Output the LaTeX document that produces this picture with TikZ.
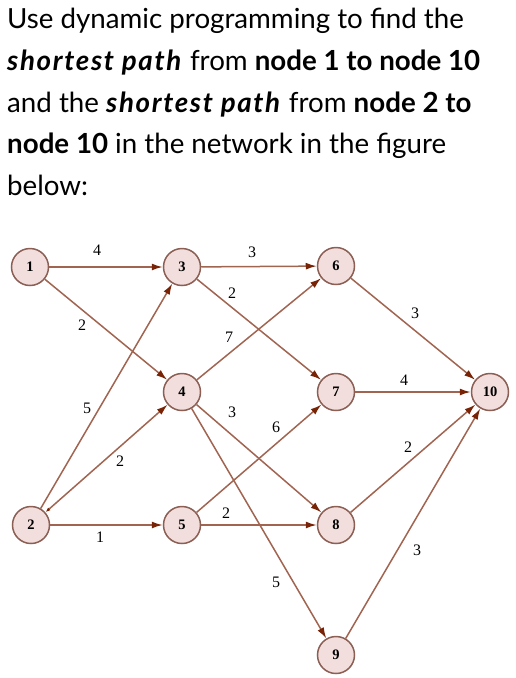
\documentclass[tikz,border=0pt]{standalone}
\usepackage{fontspec}
\setmainfont{Lato}
\newfontfamily\netfont{Liberation Serif}
\usetikzlibrary{arrows.meta}
\definecolor{edgebrown}{RGB}{160,100,80}
\definecolor{tipbrown}{RGB}{120,35,5}
\definecolor{nodefill}{RGB}{242,222,220}
\definecolor{noderim}{RGB}{140,95,85}
\tikzset{
  city/.style={circle, draw=noderim, fill=nodefill, line width=1.5pt, minimum size=37pt, inner sep=0pt, font=\netfont\bfseries\fontsize{14.5}{14.5}\selectfont},
  link/.style={draw=edgebrown, line width=1.5pt, -{Latex[length=11pt,width=7pt,color=tipbrown]}},
  cost/.style={font=\netfont\fontsize{16}{16}\selectfont, inner sep=0pt},
  txtline/.style={anchor=base west, inner sep=0pt, font=\fontsize{27.7}{30}\selectfont}
}
\newcommand{\keyterm}[1]{\textbf{\textit{\addfontfeature{LetterSpace=6}#1}}}
\begin{document}
\begin{tikzpicture}[x=1pt,y=-1pt]
\useasboundingbox (0,0) rectangle (515,678);

% question text
\node[txtline] (q1) at (7,28) {Use dynamic programming to find the};
\node[txtline] (q2) at (7,70) {\keyterm{shortest path} from \textbf{node 1 to node 10}};
\node[txtline] (q3) at (7,112) {and the \keyterm{shortest path} from \textbf{node 2 to}};
\node[txtline] (q4) at (7,153) {\textbf{node 10} in the network in the figure};
\node[txtline] (q5) at (7,195) {below:};

% network
\node[city] (n1) at (30,267) {1};
\node[city] (n2) at (31,525) {2};
\node[city] (n3) at (182,267) {3};
\node[city] (n4) at (182,392) {4};
\node[city] (n5) at (182,525) {5};
\node[city] (n6) at (336,266) {6};
\node[city] (n7) at (336,392) {7};
\node[city] (n8) at (336,525) {8};
\node[city] (n9) at (336,655) {9};
\node[city] (n10) at (490,392) {10};

\draw [link] (n1) -- (n3);
\draw [link] (n1) -- (n4);
\draw [link] (n2) -- (n3);
\draw [link, {Latex[length=5pt,width=3.5pt,color=tipbrown]}-{Latex[length=11pt,width=7pt,color=tipbrown]}] (n2) -- (n4);
\draw [link] (n2) -- (n5);
\draw [link] (n3) -- (n6);
\draw [link] (n3) -- (n7);
\draw [link] (n4) -- (n6);
\draw [link] (n4) -- (n8);
\draw [link] (n4) -- (n9);
\draw [link] (n5) -- (n7);
\draw [link] (n5) -- (n8);
\draw [link] (n6) -- (n10);
\draw [link] (n7) -- (n10);
\draw [link] (n8) -- (n10);
\draw [link] (n9) -- (n10);

% costs
\node[cost] (c13) at (97,250) {4};
\node[cost] (c14) at (82,325) {2};
\node[cost] (c23) at (87,408) {5};
\node[cost] (c24) at (120,461) {2};
\node[cost] (c25) at (100,537) {1};
\node[cost] (c36) at (252,252) {3};
\node[cost] (c37) at (232,293) {2};
\node[cost] (c46) at (229,337) {7};
\node[cost] (c48) at (232,412) {3};
\node[cost] (c57) at (276,427) {6};
\node[cost] (c49) at (276,582) {5};
\node[cost] (c58) at (226,513) {2};
\node[cost] (c610) at (415,313) {3};
\node[cost] (c710) at (404,380) {4};
\node[cost] (c810) at (408,447) {2};
\node[cost] (c910) at (417,550) {3};

\end{tikzpicture}
\end{document}
